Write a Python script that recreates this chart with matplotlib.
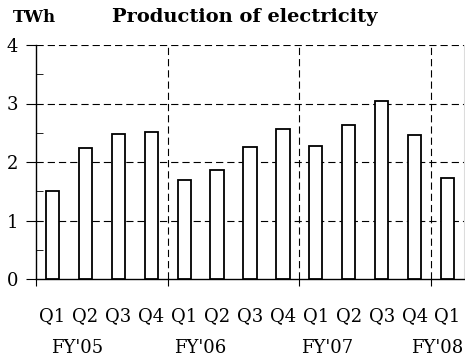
""" Production of electricity, quarterly bars """

import matplotlib
matplotlib.use("Agg")
import matplotlib.pyplot as plt
import matplotlib.transforms as mtransforms

quarters = ["Q1", "Q2", "Q3", "Q4", "Q1", "Q2", "Q3", "Q4",
            "Q1", "Q2", "Q3", "Q4", "Q1"]
production_twh = [1.50, 2.24, 2.48, 2.51, 1.70, 1.86, 2.25, 2.57,
                  2.28, 2.63, 3.05, 2.47, 1.73]
fiscal_years = ["FY'05", "FY'06", "FY'07", "FY'08"]
fiscal_year_pos = [0.74, 4.48, 8.35, 11.68]

plt.rcParams['font.family'] = ['DejaVu Serif']

fig = plt.figure(figsize=(4.65, 3.58), dpi=100)
ax = fig.add_axes([36 / 465, 1 - 279 / 358, 428 / 465, (279 - 45) / 358])

x = range(len(production_twh))
ax.bar(x, production_twh, width=0.4, facecolor='white',
       edgecolor='black', linewidth=1.3, zorder=3)

ax.set_xlim(-0.5, len(production_twh) - 0.5)
ax.set_ylim(0, 4)

# grid lines (dashed), top line at 4 too
dash = (0, (6.5, 3.6))
for y in [1, 2, 3, 4]:
    ax.axhline(y, color='black', linewidth=0.8, linestyle=dash, zorder=1)
for xv in [3.5, 7.5, 11.5]:
    ax.axvline(xv, color='black', linewidth=0.8, linestyle=dash, zorder=1)

ax.spines['top'].set_visible(False)
ax.spines['right'].set_color('#dcdcdc')
ax.spines['right'].set_linewidth(0.8)
ax.spines['left'].set_linewidth(1.0)
ax.spines['bottom'].set_linewidth(1.0)

# y ticks: major outward, minor inward
ax.set_yticks([0, 1, 2, 3, 4])
ax.set_yticks([0.5, 1.5, 2.5, 3.5], minor=True)
ax.tick_params(axis='y', which='major', direction='out', length=7,
               labelsize=13, pad=6)
ax.tick_params(axis='y', which='minor', direction='in', length=5)

# x ticks: boundaries outward, quarter labels under bars
ax.set_xticks([-0.5, 3.5, 7.5, 11.5])
ax.set_xticklabels([])
ax.set_xticks(list(x), minor=True)
ax.set_xticklabels(quarters, minor=True)
ax.tick_params(axis='x', which='major', direction='out', length=5)
ax.tick_params(axis='x', which='minor', length=0, labelsize=13, pad=20)

trans = mtransforms.blended_transform_factory(ax.transData, fig.transFigure)
for label, xp in zip(fiscal_years, fiscal_year_pos):
    ax.text(xp, 1 - 348 / 358, label, transform=trans, ha='center',
            va='center', fontsize=13)

fig.text(34 / 465, 1 - 17 / 358, "TWh", ha='center', va='center',
         fontsize=12, fontweight='bold')
fig.text(245 / 465, 1 - 17 / 358, "Production of electricity", ha='center',
         va='center', fontsize=14, fontweight='bold')

fig.savefig("out.png", dpi=100)
